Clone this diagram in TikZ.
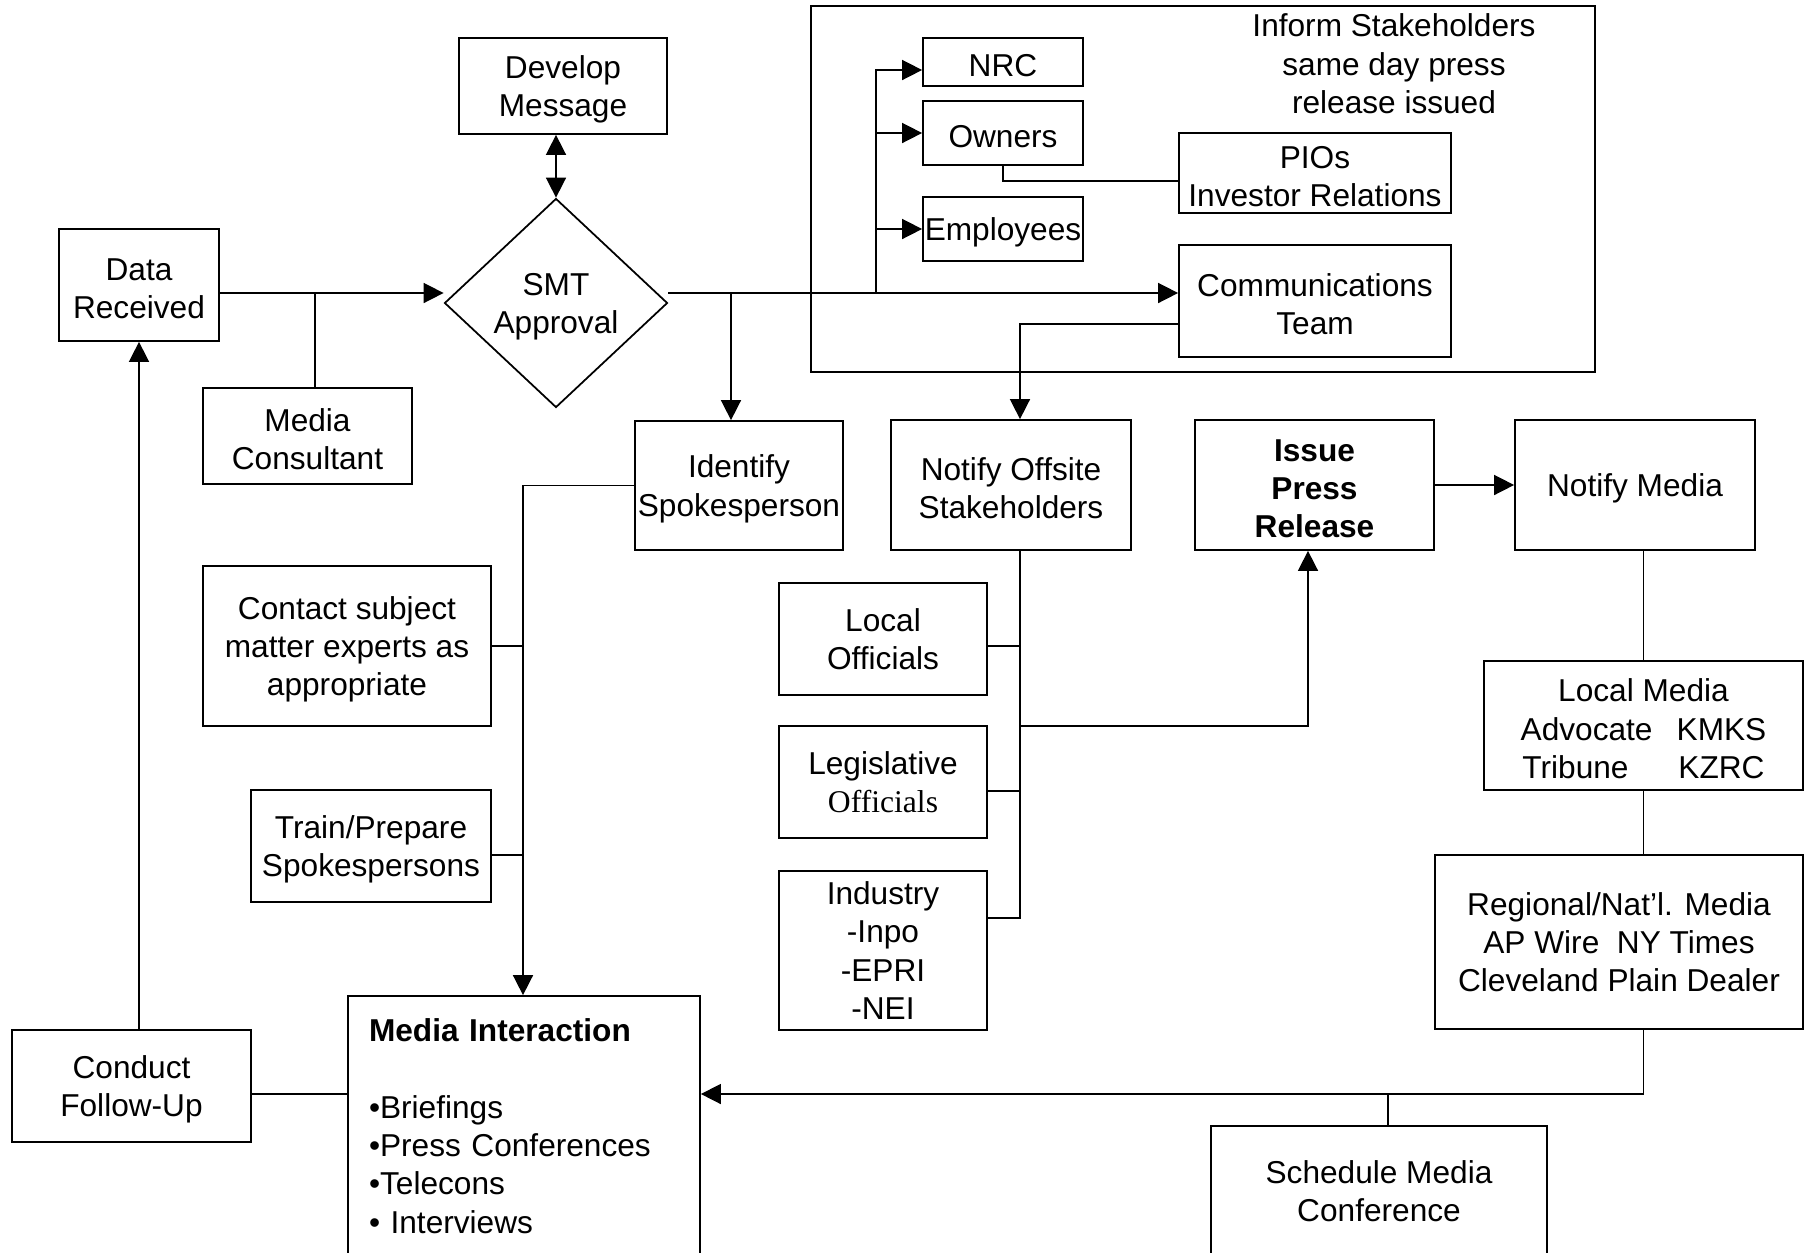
\documentclass[tikz,border=0pt]{standalone}
\usepackage{fontspec}
\setmainfont{Liberation Sans}
\newfontfamily\timesfont{Liberation Serif}
\usetikzlibrary{arrows.meta,shapes.geometric,calc}
\newcommand\topln{\rule{0pt}{8.4pt}}

\begin{document}
\begin{tikzpicture}[x=1mm,y=-1mm,
            plain/.style={draw=black, line width=0.5pt, inner sep=0pt, font=\fontsize{9}{10.9}\selectfont},
            pbox/.style={plain, align=center},
            box/.style={pbox, execute at begin node={\rule{0pt}{8.2pt}}},
            sz/.style 2 args={minimum width=#1mm, minimum height=#2mm},
            con/.style={draw=black, line width=0.45pt},
            arr/.style={con, -{Triangle[length=2mm,width=2mm]}},
            darr/.style={con, {Triangle[length=2mm,width=2mm]}-{Triangle[length=2mm,width=2mm]}}]
            \useasboundingbox (0,0) rectangle (181.3,125.3);

            \node[draw=black, line width=0.5pt, sz={78.4}{36.6}] (frm) at (120.3,18.9) {};
            \node[align=center, font=\fontsize{9}{10.9}\selectfont] (inf) at (139.4,6.4) {Inform Stakeholders\\same day press\\release issued};

            \node[box, sz={20.8}{9.6}] (dev) at (56.3,8.6) {\topln Develop\\Message};
            \node[box, diamond, sz={22.3}{20.9}] (smt) at (55.6,30.3) {\topln SMT\\Approval};
            \node[box, sz={16}{11.2}] (dr) at (13.9,28.5) {\topln Data\\Received};
            \node[box, sz={20.9}{9.6}] (mc) at (30.75,43.6) {\topln Media\\Consultant};
            \node[box, sz={20.8}{12.9}] (isp) at (73.9,48.55) {\topln Identify\\Spokesperson};

            \node[box, sz={16}{4.8}] (nrc) at (100.3,6.2) {NRC};
            \node[box, sz={16}{6.4}] (own) at (100.3,13.3) {Owners};
            \node[box, sz={16}{6.4}] (emp) at (100.3,22.9) {Employees};
            \node[box, sz={27.2}{8}] (pio) at (131.5,17.3) {\topln PIOs\\Investor Relations};
            \node[box, sz={27.2}{11.2}] (ct) at (131.5,30.1) {\topln Communications\\Team};

            \node[box, sz={24}{13}] (nos) at (101.1,48.5) {\topln Notify Offsite\\Stakeholders};
            \node[box, sz={23.9}{13}, font=\fontsize{9}{10.9}\selectfont\bfseries] (ipr) at (131.45,48.5) {\topln Issue\\Press\\Release};
            \node[box, sz={24}{13}] (nm) at (163.5,48.5) {Notify Media};

            \node[box, sz={28.8}{16}] (cse) at (34.7,64.6) {\topln Contact subject\\matter experts as\\appropriate};
            \node[box, sz={24}{11.2}] (tps) at (37.1,84.6) {\topln Train/Prepare\\Spokespersons};
            \node[plain, sz={35.2}{26}, text width=31mm, align=left, inner xsep=2.1mm] (mi) at (52.4,112.6)
                {\textbf{Media Interaction}\\[10.9pt]•Briefings\\•Press Conferences\\•Telecons\\• Interviews};
            \node[box, sz={23.9}{11.2}] (cf) at (13.15,108.6) {\topln Conduct\\Follow-Up};

            \node[pbox, sz={20.8}{11.2}] (lo) at (88.3,63.9) {Local\\Officials};
            \node[pbox, sz={20.8}{11.2}] (lg) at (88.3,78.2) {Legislative\\{\timesfont Officials}};
            \node[pbox, sz={20.8}{15.9}] (ind) at (88.3,95.05) {Industry\\-Inpo\\-EPRI\\-NEI};

            \node[box, sz={31.9}{12.9}] (lm) at (164.35,72.55) {\topln Local Media\\
                \makebox[15.6mm][l]{Advocate}KMKS\\\makebox[15.6mm][l]{Tribune}KZRC};
            \node[pbox, sz={36.8}{17.4}] (rm) at (161.9,94.2) {Regional/Nat’l. Media\\AP Wire\ \ NY Times\\Cleveland Plain Dealer};
            \node[pbox, sz={33.6}{13}] (smc) at (137.9,119.1) {Schedule Media\\Conference};

            \coordinate (j1) at (31.5,29.3);
            \coordinate (j2) at (73.1,29.3);
            \coordinate (j3) at (87.6,29.3);
            \coordinate (k) at (102.0,32.4);
            \coordinate (b1) at (102.0,64.6);
            \coordinate (b2) at (102.0,79.1);
            \coordinate (b3) at (102.0,91.8);
            \coordinate (b4) at (102.0,72.6);
            \coordinate (p) at (130.8,72.6);
            \coordinate (c) at (52.3,85.5);
            \coordinate (q) at (164.35,109.4);
            \coordinate (s) at (138.8,109.4);

            \draw[darr] (dev.south -| smt.north) -- (smt.north);
            \draw[arr] (dr.east |- j1) -- (smt.west |- j1);
            \draw[con] (j1) -- (j1 |- mc.north);
            \draw[arr] (smt.east |- j1) -- (ct.west |- j1);
            \draw[arr] (j2) -- (j2 |- isp.north);
            \draw[arr] (j3) |- ($(nrc.west)+(0,0.8)$);
            \draw[arr] (j3 |- own.west) -- (own.west);
            \draw[arr] (j3 |- emp.west) -- (emp.west);
            \draw[con] (own.south) |- ($(pio.west)+(0,0.8)$);
            \draw[arr] (ct.west |- k) -| (k |- nos.north);

            \draw[con] (b1 |- nos.south) |- (b3 -| ind.east);
            \draw[con] (b1) -- (b1 -| lo.east);
            \draw[con] (b2) -- (b2 -| lg.east);
            \draw[arr] (b4) -| (p |- ipr.south);
            \draw[arr] (ipr.east) -- (nm.west);
            \draw[con] (lm.north |- nm.south) -- (lm.north);
            \draw[con] (lm.south) -- (lm.south |- rm.north);
            \draw[arr] (q |- rm.south) |- (mi.east |- q);
            \draw[con] (s) -- (s |- smc.north);

            \draw[arr] (isp.west) -| (c |- mi.north);
            \draw[con] (cse.east) -- (cse.east -| c);
            \draw[con] (c -| tps.east) -- (c);
            \draw[con] (cf.east |- q) -- (mi.west |- q);
            \draw[arr] (dr.south |- cf.north) -- (dr.south);

        \end{tikzpicture}
\end{document}
